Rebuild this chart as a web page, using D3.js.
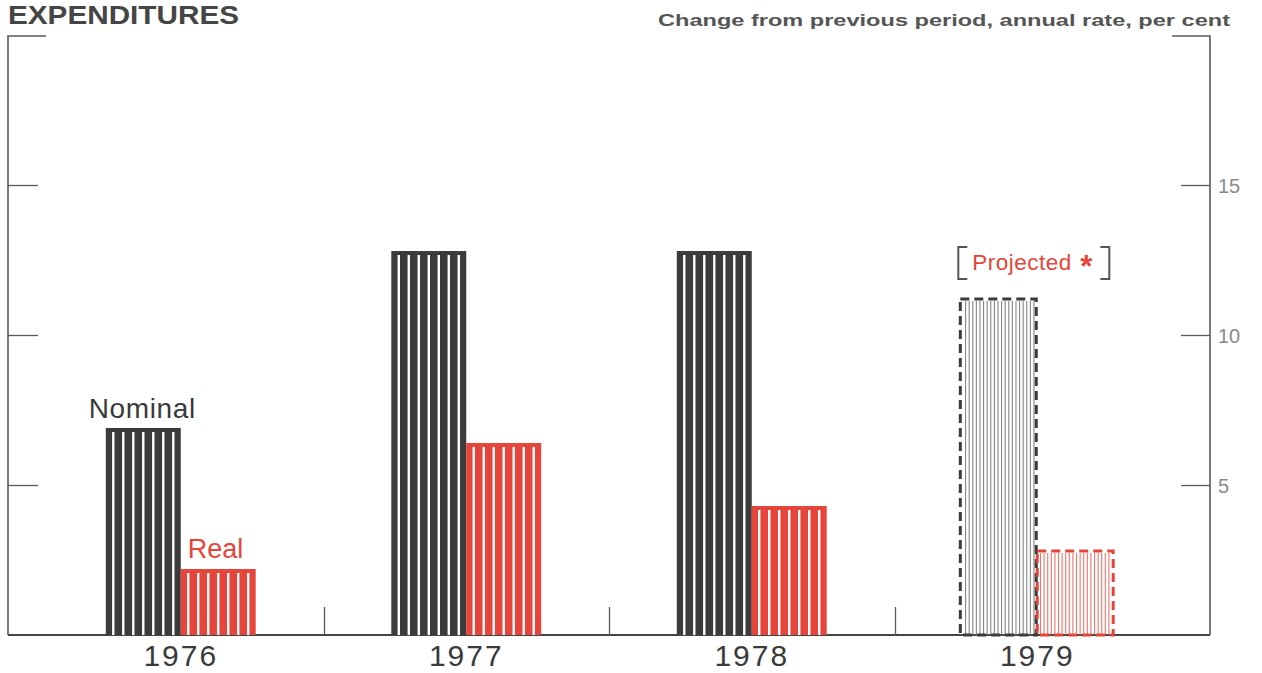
<!DOCTYPE html>
<html>
<head>
<meta charset="utf-8">
<script src="https://cdn.jsdelivr.net/npm/d3@7"></script>
<style>
  html, body { margin: 0; padding: 0; background: #fff; }
  svg { display: block; font-family: "Liberation Sans", Arial, Helvetica, sans-serif; }
</style>
</head>
<body>
<svg id="chart" width="1262" height="673"></svg>
<script>
// Expenditures: change from previous period, annual rate, per cent
const years = ["1976", "1977", "1978", "1979"];
const nominal = [6.9, 12.8, 12.8, 11.2];
const real = [2.2, 6.4, 4.3, 2.8];
const projected = [false, false, false, true];
const yTicks = [5, 10, 15];
const seriesNames = ["Nominal", "Real"];

const DARK = "#3b3b3b";
const RED = "#e5453b";
const AXIS = "#5a5a5a";

const svg = d3.select("#chart");

const plotLeft = 8, plotRight = 1210, plotTop = 36, plotBase = 635;

const y = d3.scaleLinear().domain([0, 20]).range([plotBase, plotTop - 1]);

const x0 = d3.scaleBand()
  .domain(years)
  .range([38, 1180])
  .paddingInner(0.475)
  .paddingOuter(0.2375);

const x1 = d3.scaleBand()
  .domain(seriesNames)
  .range([0, x0.bandwidth()]);

const rows = years.map((yr, i) => ({
  year: yr,
  projected: projected[i],
  values: [
    { key: "Nominal", value: nominal[i] },
    { key: "Real", value: real[i] }
  ]
}));

// ---- axes frame ----
const frame = svg.append("g").attr("stroke", AXIS).attr("stroke-width", 1.6).attr("fill", "none");
frame.append("path").attr("d", `M${plotLeft + 38},${plotTop} H${plotLeft} V${plotBase}`);
frame.append("path").attr("d", `M${plotRight - 38},${plotTop} H${plotRight} V${plotBase}`);
frame.append("line").attr("x1", plotLeft).attr("x2", plotRight).attr("y1", plotBase).attr("y2", plotBase)
  .attr("stroke", "#444").attr("stroke-width", 2);

// tick marks on both sides, labels on the right
const ticks = svg.append("g");
yTicks.forEach(t => {
  const ty = Math.round(y(t)) + 0.5;
  ticks.append("line").attr("x1", plotLeft).attr("x2", plotLeft + 30).attr("y1", ty).attr("y2", ty)
    .attr("stroke", AXIS).attr("stroke-width", 1.3);
  ticks.append("line").attr("x1", plotRight - 29).attr("x2", plotRight).attr("y1", ty).attr("y2", ty)
    .attr("stroke", AXIS).attr("stroke-width", 1.3);
  ticks.append("text").attr("x", plotRight + 8).attr("y", ty + 7)
    .attr("font-size", 20).attr("fill", "#8a8a8a").text(t);
});

// dividers between year groups
const step = x0.step();
years.slice(1).forEach(yr => {
  const dx = Math.round(x0(yr) - (step - x0.bandwidth()) / 2) + 0.5;
  svg.append("line").attr("x1", dx).attr("x2", dx).attr("y1", plotBase - 28).attr("y2", plotBase)
    .attr("stroke", AXIS).attr("stroke-width", 1.3);
});

// ---- bars ----
const groups = svg.append("g").selectAll("g.year")
  .data(rows).join("g")
  .attr("class", "year")
  .attr("transform", d => `translate(${x0(d.year)},0)`);

groups.each(function (d) {
  const g = d3.select(this);
  d.values.forEach(v => {
    const bx = x1(v.key), bw = x1.bandwidth();
    const by = y(v.value), bh = y(0) - y(v.value);
    const col = v.key === "Nominal" ? DARK : RED;
    if (!d.projected) {
      g.append("rect").attr("x", bx).attr("y", by).attr("width", bw).attr("height", bh).attr("fill", col);
      // white vertical stripes
      const n = 7, period = 10, sw = 2.4;
      const off = (bw - ((n - 1) * period + sw)) / 2;
      for (let k = 0; k < n; k++) {
        g.append("rect")
          .attr("x", bx + off + k * period)
          .attr("y", by + 4)
          .attr("width", sw)
          .attr("height", bh - 4)
          .attr("fill", "#fff");
      }
    } else {
      const lineCol = v.key === "Nominal" ? "#858585" : "#ec766c";
      const period = 3.6;
      const n = Math.floor((bw - 2) / period);
      const off = (bw - (n - 1) * period) / 2;
      for (let k = 0; k < n; k++) {
        const lx = bx + off + k * period;
        g.append("line").attr("x1", lx).attr("x2", lx).attr("y1", by + 2).attr("y2", y(0))
          .attr("stroke", lineCol).attr("stroke-width", 1.1);
      }
      g.append("rect").attr("x", bx - 2 + (v.key === "Real" ? 2 : 0)).attr("y", by)
        .attr("width", bw + 1).attr("height", bh)
        .attr("fill", "none").attr("stroke", col).attr("stroke-width", 3)
        .attr("stroke-dasharray", "9,5");
    }
  });
});

// ---- year labels ----
svg.append("g").selectAll("text")
  .data(years).join("text")
  .attr("x", d => x0(d) + x0.bandwidth() / 2)
  .attr("y", 666)
  .attr("text-anchor", "middle")
  .attr("font-size", 30)
  .attr("letter-spacing", 2)
  .attr("fill", "#3a3a3a")
  .text(d => d);

// ---- series labels ----
const first = rows[0];
svg.append("text")
  .attr("x", x0(first.year) + x1("Nominal") - 17)
  .attr("y", 418)
  .attr("font-size", 28)
  .attr("letter-spacing", 0.6)
  .attr("fill", "#3a3a3a")
  .text("Nominal");
svg.append("text")
  .attr("x", x0(first.year) + x1("Real") + 7)
  .attr("y", 558)
  .attr("font-size", 27)
  .attr("fill", RED)
  .text("Real");

// projected note above the 1979 bars, framed by square brackets
const last = rows[3];
const px = x0(last.year);
const note = svg.append("g");
note.append("path")
  .attr("d", `M${px + 5},${247} H${px - 4} V${279} H${px + 5}`)
  .attr("fill", "none").attr("stroke", "#555").attr("stroke-width", 2);
note.append("path")
  .attr("d", `M${px + 138},${247} H${px + 147} V${279} H${px + 138}`)
  .attr("fill", "none").attr("stroke", "#555").attr("stroke-width", 2);
note.append("text").attr("x", px + 10).attr("y", 270).attr("font-size", 22.5).attr("fill", RED)
  .attr("letter-spacing", 0.5).text("Projected");
note.append("text").attr("x", px + 118).attr("y", 277).attr("font-size", 31).attr("fill", RED)
  .attr("font-weight", "bold").text("*");

// ---- titles ----
svg.append("text").attr("x", 8).attr("y", 24)
  .attr("font-size", 26).attr("font-weight", "bold").attr("fill", "#454545")
  .attr("textLength", 231).attr("lengthAdjust", "spacingAndGlyphs")
  .text("EXPENDITURES");
svg.append("text").attr("x", 1230).attr("y", 26)
  .attr("text-anchor", "end")
  .attr("font-size", 16.5).attr("font-weight", "bold").attr("fill", "#555")
  .attr("textLength", 572).attr("lengthAdjust", "spacingAndGlyphs")
  .text("Change from previous period, annual rate, per cent");
</script>
</body>
</html>
